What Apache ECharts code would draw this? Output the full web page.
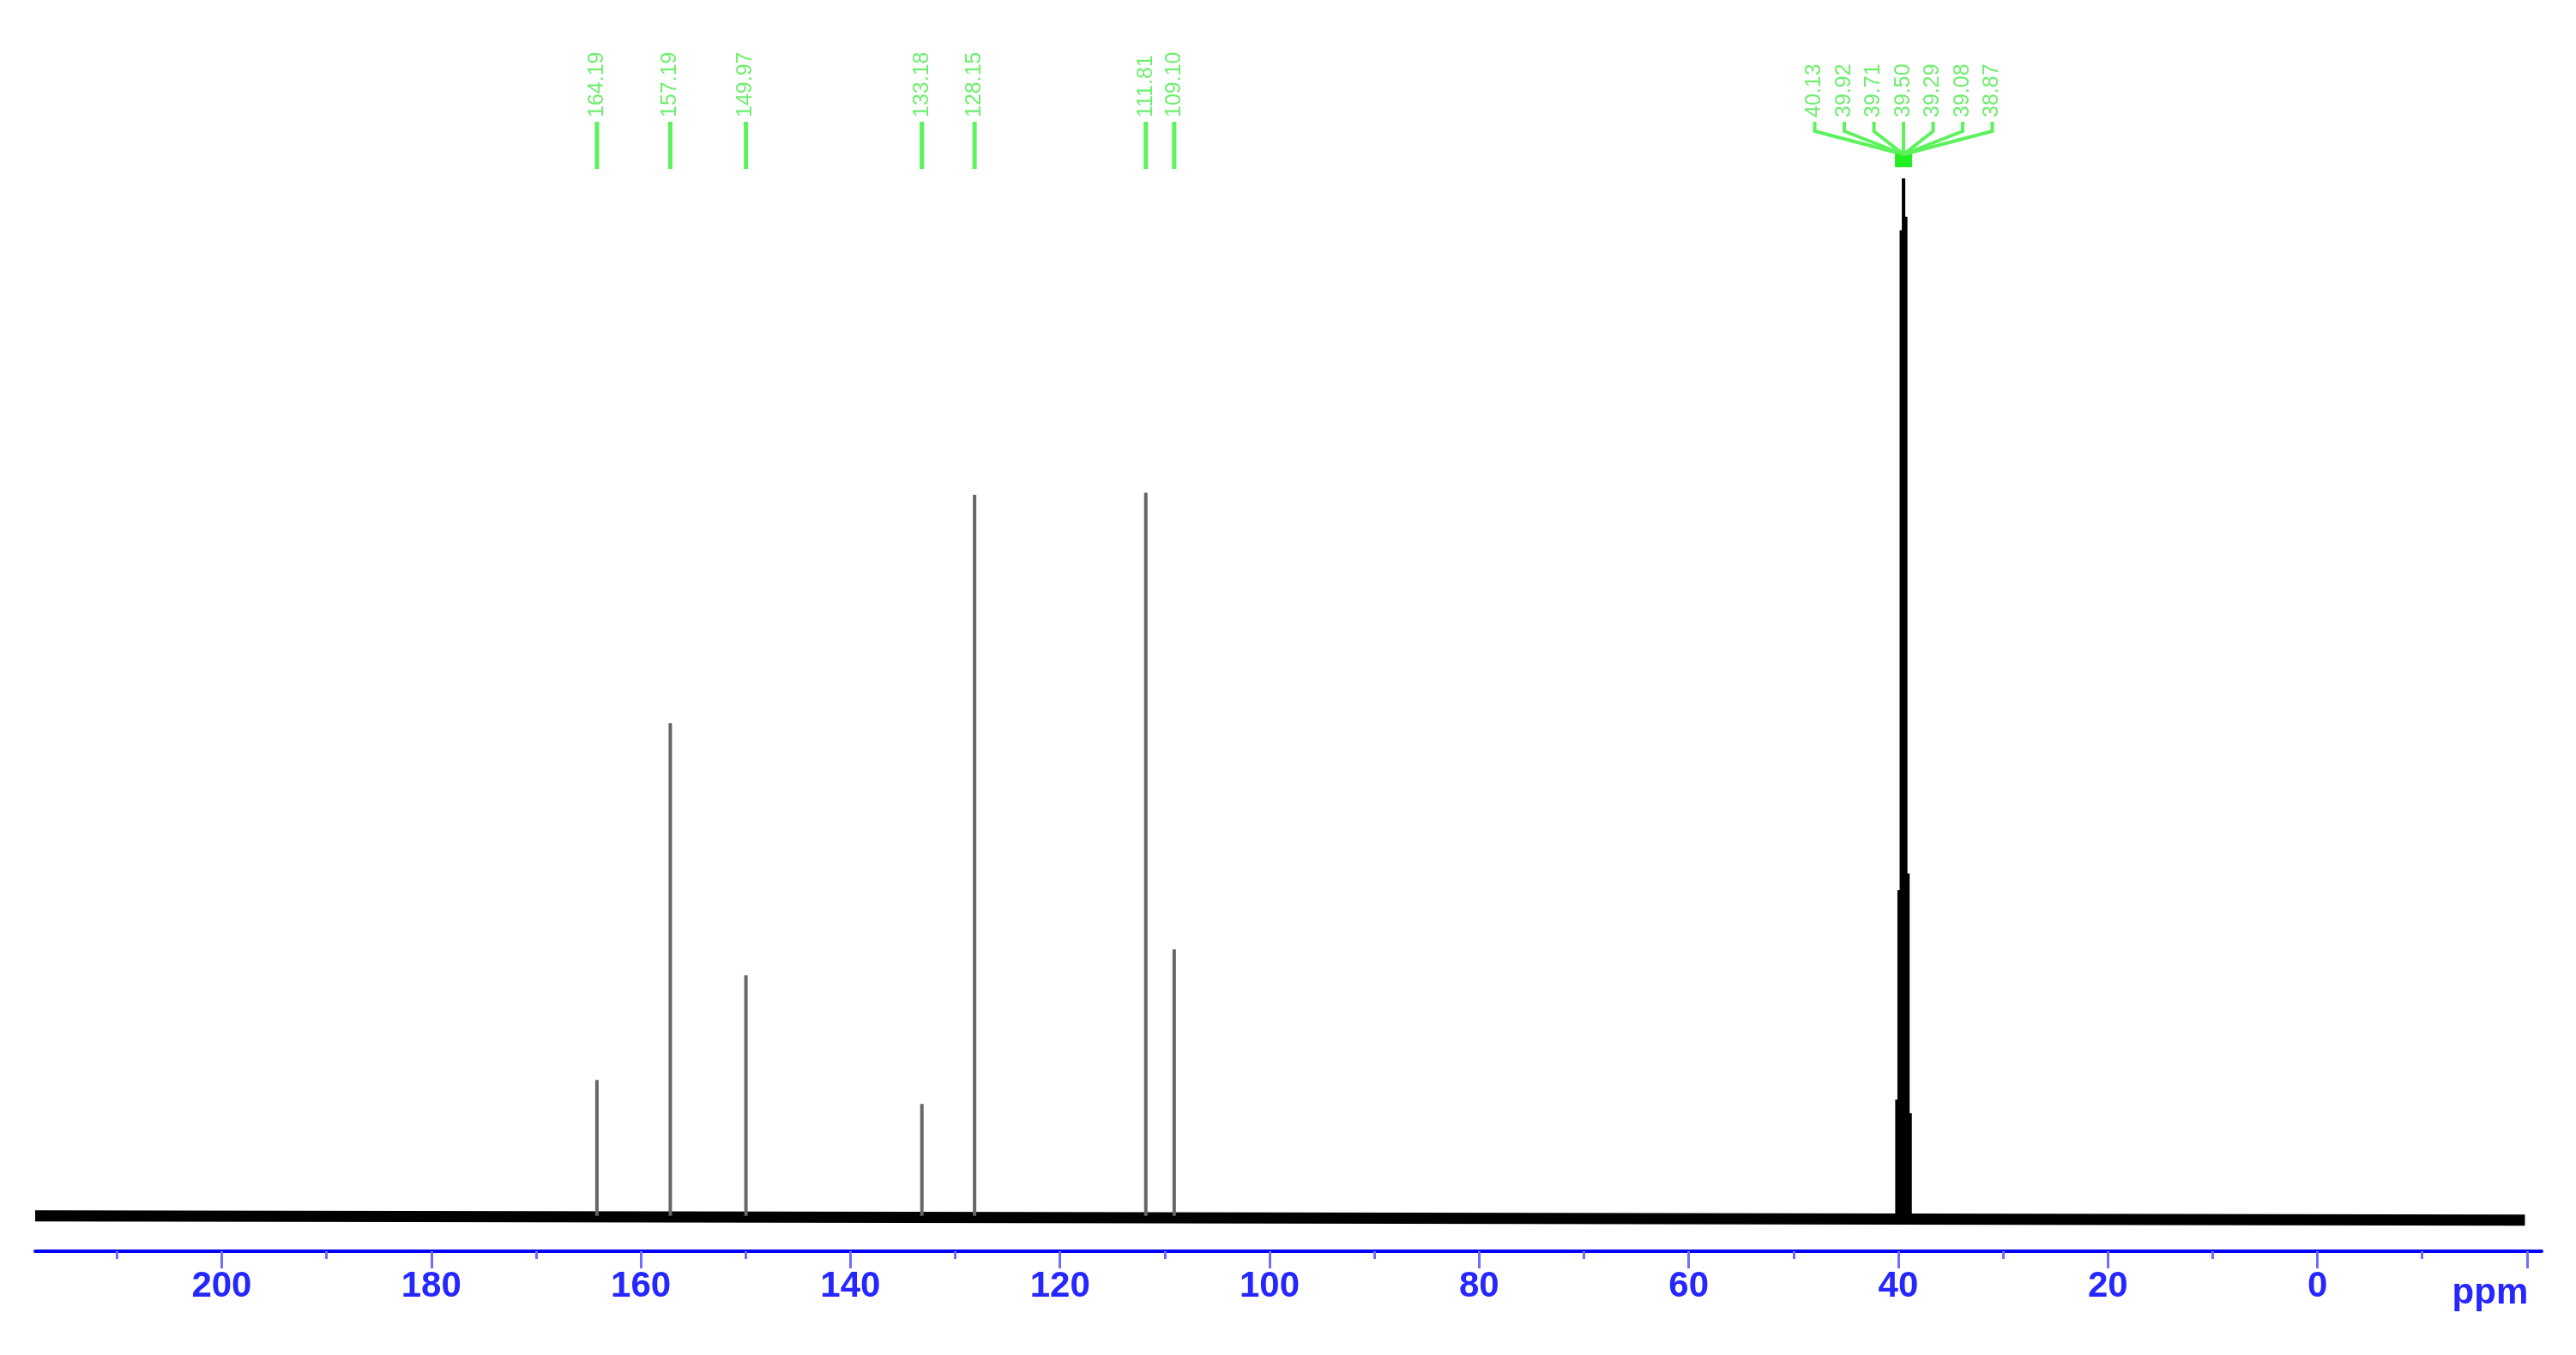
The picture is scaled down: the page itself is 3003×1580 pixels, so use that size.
<!DOCTYPE html>
<html>
<head>
<meta charset="utf-8">
<title>13C NMR</title>
<script src="https://cdn.jsdelivr.net/npm/echarts@6/dist/echarts.min.js"></script>
<style>
html, body { margin: 0; padding: 0; background: #fff; }
#chart { width: 3003px; height: 1580px; }
</style>
</head>
<body>
<div id="chart"></div>
<script>
// sample peaks, ppm and height (solvent top = 100)
const peakShifts = [164.19, 157.19, 149.97, 133.18, 128.15, 111.81, 109.10];
const peakHeights = [13.1, 47.5, 23.2, 10.8, 69.5, 69.7, 25.7];
// DMSO-d6 septet
const solventShifts = [40.13, 39.92, 39.71, 39.50, 39.29, 39.08, 38.87];
const solventHeights = [11.2, 31.4, 95.0, 100, 96.3, 33.0, 9.9];
// start and end of the trace (slight drift)
const baseline = [[217.8, 0], [-19.8, -0.4]];
const majorTicks = [200, 180, 160, 140, 120, 100, 80, 60, 40, 20, 0, -20];
const minorTicks = [210, 190, 170, 150, 130, 110, 90, 70, 50, 30, 10, -10];

const GRID_TOP = 208;
const GREEN_LINE = '#5cf25c';
const GREEN_TEXT = '#6fee6f';
const LABEL_FONT = '25px "Liberation Sans"';

const chart = echarts.init(document.getElementById('chart'));

function spike (color) {
  return function (params, api) {
    const top = api.coord([api.value(0), api.value(1)]);
    const bot = api.coord([api.value(0), 0]);
    return {
      type: 'line',
      shape: { x1: top[0], y1: top[1], x2: bot[0], y2: bot[1] },
      style: { stroke: color, lineWidth: 4 }
    };
  };
}

function peakLabel (params, api) {
  const ppm = api.value(0);
  const x = api.coord([ppm, 0])[0];
  return {
    type: 'group',
    children: [
      {
        type: 'line',
        shape: { x1: x, y1: GRID_TOP - 66, x2: x, y2: GRID_TOP - 11 },
        style: { stroke: GREEN_LINE, lineWidth: 5 }
      },
      {
        type: 'text',
        x: x,
        y: GRID_TOP - 71,
        rotation: Math.PI / 2,
        style: {
          text: ppm.toFixed(2),
          fill: GREEN_TEXT,
          font: LABEL_FONT,
          align: 'left',
          verticalAlign: 'middle'
        }
      }
    ]
  };
}

// solvent labels fan out and join at one point above the peak
function solventLabel (params, api) {
  const ppm = api.value(0);
  const i = params.dataIndex;
  const n = solventShifts.length;
  const cx = api.coord([solventShifts[(n - 1) / 2], 0])[0];
  const lx = cx + (i - (n - 1) / 2) * 34.5;
  const children = [
    {
      type: 'polyline',
      shape: { points: [[lx, GRID_TOP - 66], [lx, GRID_TOP - 55], [cx, GRID_TOP - 28]] },
      style: { stroke: GREEN_LINE, lineWidth: 4, fill: null }
    },
    {
      type: 'text',
      x: lx,
      y: GRID_TOP - 71,
      rotation: Math.PI / 2,
      style: {
        text: ppm.toFixed(2),
        fill: GREEN_TEXT,
        font: LABEL_FONT,
        align: 'left',
        verticalAlign: 'middle'
      }
    }
  ];
  if (i === 0) {
    children.push({
      type: 'rect',
      shape: { x: cx - 10, y: GRID_TOP - 30, width: 20, height: 17 },
      style: { fill: '#22ee22' }
    });
  }
  return { type: 'group', children: children };
}

const peakData = peakShifts.map((v, i) => [v, peakHeights[i]]);
const solventData = solventShifts.map((v, i) => [v, solventHeights[i]]);

const xMin = -21.4;
const xMax = 217.8;

chart.setOption({
  animation: false,
  backgroundColor: '#ffffff',
  grid: { left: 41, right: 40, top: GRID_TOP, bottom: 121 },
  xAxis: [
    {
      type: 'value',
      min: xMin,
      max: xMax,
      inverse: true,
      position: 'bottom',
      splitLine: { show: false },
      axisLine: { show: true, onZero: false, lineStyle: { color: '#0000ff', width: 4 } },
      axisTick: {
        show: true,
        length: 20,
        customValues: majorTicks,
        lineStyle: { color: '#6f6fff', width: 3 }
      },
      axisLabel: {
        customValues: majorTicks,
        margin: 20,
        color: '#2626ff',
        fontSize: 42,
        fontWeight: 'bold',
        fontFamily: 'Liberation Sans',
        formatter: v => (v === -20 ? '{u|ppm}' : String(v)),
        rich: {
          u: {
            color: '#2626ff',
            fontSize: 42,
            fontWeight: 'bold',
            fontFamily: 'Liberation Sans',
            padding: [8, 86, 0, 0]
          }
        }
      }
    },
    {
      type: 'value',
      min: xMin,
      max: xMax,
      inverse: true,
      position: 'bottom',
      splitLine: { show: false },
      axisLine: { show: false, onZero: false },
      axisTick: {
        show: true,
        length: 9,
        customValues: minorTicks,
        lineStyle: { color: '#6f6fff', width: 3 }
      },
      axisLabel: { show: false }
    }
  ],
  yAxis: {
    type: 'value',
    min: -3.4,
    max: 100,
    show: false,
    splitLine: { show: false }
  },
  series: [
    {
      type: 'line',
      data: baseline,
      symbol: 'none',
      z: 1,
      lineStyle: { color: '#000000', width: 13 }
    },
    {
      type: 'custom',
      data: peakData,
      z: 3,
      renderItem: spike('#666666')
    },
    {
      type: 'custom',
      data: solventData,
      z: 3,
      renderItem: spike('#000000')
    },
    {
      type: 'custom',
      data: peakShifts.map(v => [v, 0]),
      z: 4,
      renderItem: peakLabel
    },
    {
      type: 'custom',
      data: solventShifts.map(v => [v, 0]),
      z: 4,
      renderItem: solventLabel
    }
  ]
});
</script>
</body>
</html>
